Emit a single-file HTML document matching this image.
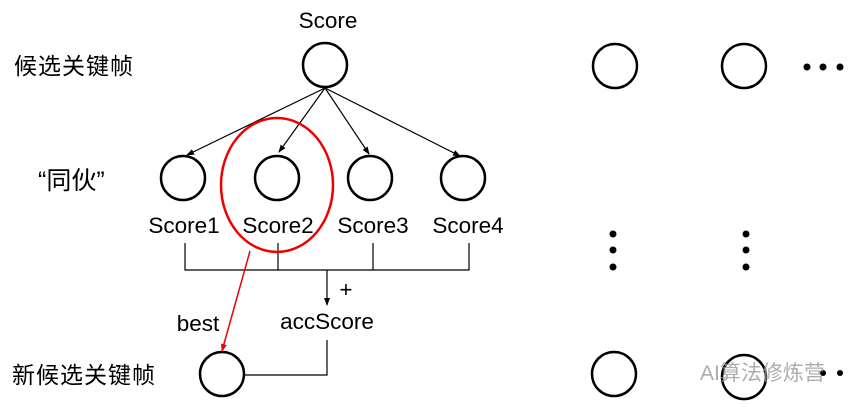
<!DOCTYPE html>
<html><head><meta charset="utf-8"><style>
body{margin:0;background:#fff;}
svg{display:block}
text{font-family:"Liberation Sans","Noto Sans CJK SC",sans-serif;fill:#000}
</style></head><body>
<svg width="853" height="407" viewBox="0 0 853 407" xmlns="http://www.w3.org/2000/svg">
<defs>
<marker id="a" markerWidth="8" markerHeight="8" refX="7" refY="4" orient="auto" markerUnits="userSpaceOnUse"><path d="M0,1 L8,4 L0,7 z" fill="#000"/></marker>
<marker id="r" markerWidth="8" markerHeight="8" refX="7" refY="4" orient="auto" markerUnits="userSpaceOnUse"><path d="M0,1 L8,4 L0,7 z" fill="#e00"/></marker>
</defs>
<g font-size="22.5">
<text x="328" y="28" text-anchor="middle">Score</text>
<text x="14" y="74" font-size="23" letter-spacing="1">候选关键帧</text>
<text x="38" y="189" font-size="25">“同伙”</text>
<text x="12" y="383" font-size="23" letter-spacing="1">新候选关键帧</text>
<text x="184" y="233" text-anchor="middle">Score1</text>
<text x="278" y="233" text-anchor="middle">Score2</text>
<text x="373" y="233" text-anchor="middle">Score3</text>
<text x="468" y="233" text-anchor="middle">Score4</text>
<text x="198" y="331" text-anchor="middle">best</text>
<text x="327" y="329" text-anchor="middle">accScore</text>
<text x="346" y="297" text-anchor="middle">+</text>
</g>
<g fill="none" stroke="#000" stroke-width="2.5">
<circle cx="325" cy="65" r="22"/>
<circle cx="183" cy="178" r="22"/>
<circle cx="277" cy="178" r="22"/>
<circle cx="370" cy="178" r="22"/>
<circle cx="463" cy="178" r="22"/>
<circle cx="222" cy="374" r="22"/>
<circle cx="615" cy="66" r="22"/>
<circle cx="744" cy="66" r="22"/>
<circle cx="614" cy="374" r="22"/>
<circle cx="744" cy="377" r="22"/>
</g>
<g stroke="#000" stroke-width="1.2" fill="none">
<line x1="325" y1="88" x2="187" y2="155" marker-end="url(#a)"/>
<line x1="325" y1="88" x2="279" y2="152" marker-end="url(#a)"/>
<line x1="325" y1="88" x2="369" y2="154" marker-end="url(#a)"/>
<line x1="325" y1="88" x2="460" y2="156" marker-end="url(#a)"/>
<polyline points="185,243 185,270 469,270 469,243"/>
<line x1="278" y1="243" x2="278" y2="270"/>
<line x1="373" y1="243" x2="373" y2="270"/>
<line x1="327" y1="270" x2="327" y2="305" marker-end="url(#a)"/>
<polyline points="245,375 327,375 327,340"/>
</g>
<ellipse cx="277" cy="185" rx="56" ry="67" fill="none" stroke="#e00" stroke-width="2.5"/>
<line x1="250" y1="251" x2="222" y2="351" stroke="#e00" stroke-width="1.5" marker-end="url(#r)"/>
<g fill="#000">
<circle cx="807" cy="67" r="3.5"/><circle cx="823" cy="67" r="3.5"/><circle cx="840" cy="67" r="3.5"/>
<circle cx="613" cy="234" r="3.5"/><circle cx="613" cy="250" r="3.5"/><circle cx="613" cy="267" r="3.5"/>
<circle cx="746" cy="234" r="3.5"/><circle cx="746" cy="250" r="3.5"/><circle cx="746" cy="267" r="3.5"/>
<circle cx="823" cy="373" r="3"/><circle cx="840" cy="373" r="3"/>
</g>
<text x="700" y="380" font-size="21" style="fill:#999;opacity:0.8">AI算法修炼营</text>
</svg>
</body></html>
